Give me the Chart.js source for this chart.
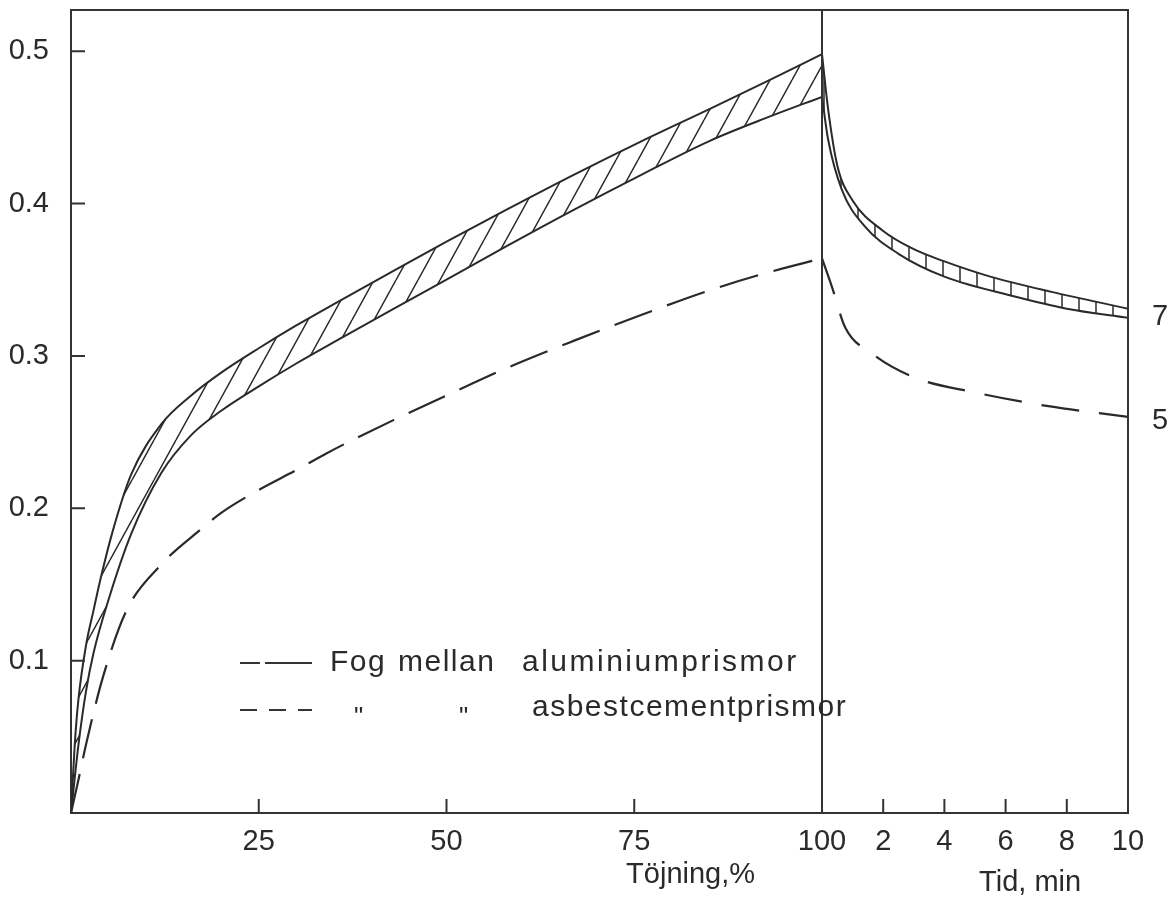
<!DOCTYPE html>
<html>
<head>
<meta charset="utf-8">
<script src="https://cdn.jsdelivr.net/npm/chart.js@4/dist/chart.umd.min.js"></script>
<style>
  body { margin: 0; background: #fff; }
  #wrap { width: 1176px; height: 906px; }
</style>
</head>
<body>
<div id="wrap"><canvas id="chart" width="1176" height="906"></canvas></div>
<script>
// left panel: strain (%) vs stress
const strainAluUpper = [0, 0.5, 1, 2, 3, 4, 5.5, 8, 12, 16, 20, 25, 30, 35, 43, 50, 58, 67, 76, 85, 93, 100];
const stressAluUpper = [0, 0.045, 0.075, 0.11, 0.133, 0.155, 0.184, 0.222, 0.255, 0.274, 0.289, 0.305, 0.32, 0.334, 0.356, 0.375, 0.396, 0.419, 0.441, 0.462, 0.481, 0.498];
const strainAluLower = [0, 1, 2, 3, 5, 8, 12, 16, 20, 25, 30, 35, 43, 50, 58, 67, 76, 85, 93, 100];
const stressAluLower = [0, 0.045, 0.08, 0.105, 0.14, 0.183, 0.223, 0.248, 0.264, 0.28, 0.295, 0.309, 0.331, 0.35, 0.372, 0.396, 0.419, 0.441, 0.457, 0.47];
const strainAsb = [0, 1, 2, 4.3, 7.4, 12, 17, 20, 25, 30, 34, 43, 50, 58, 67, 76, 85, 93, 100];
const stressAsb = [0, 0.022, 0.045, 0.09, 0.133, 0.163, 0.185, 0.197, 0.212, 0.225, 0.236, 0.258, 0.274, 0.292, 0.31, 0.327, 0.343, 0.355, 0.364];

// right panel: time (min) vs stress (relaxation)
const timeAluUpper = [0, 0.2, 0.5, 1, 2, 3, 4, 5.5, 7.5, 10];
const relaxAluUpper = [0.498, 0.462, 0.425, 0.402, 0.382, 0.37, 0.362, 0.352, 0.342, 0.331];
const timeAluLower = [0, 0.2, 0.65, 1.4, 2.5, 4, 6.3, 8, 10];
const relaxAluLower = [0.47, 0.442, 0.409, 0.385, 0.367, 0.352, 0.339, 0.331, 0.325];
const timeAsb = [0, 0.33, 0.75, 1.6, 3, 5, 7.4, 10];
const relaxAsb = [0.364, 0.345, 0.319, 0.302, 0.286, 0.276, 0.267, 0.26];

const yTicks = [0.1, 0.2, 0.3, 0.4, 0.5];
const strainTicks = [25, 50, 75, 100];
const timeTicks = [2, 4, 6, 8, 10];
const curveLabels = ['7', '5'];
const legendTexts = ['Fog', 'mellan', 'aluminiumprismor', 'asbestcementprismor'];
const axisTitles = ['Töjning,%', 'Tid, min'];

const INK = '#2a2a2a';
const FONT = '"Liberation Sans", Arial, sans-serif';

function pts(xs, ys) {
    return xs.map((x, i) => ({ x: x, y: ys[i] }));
}

// diagonal hatch for the left band
function hatchPattern() {
    const c = document.createElement('canvas');
    c.width = 22; c.height = 40;
    const g = c.getContext('2d');
    g.strokeStyle = INK; g.lineWidth = 1.5;
    g.beginPath();
    [-22, 0, 22].forEach(o => { g.moveTo(o, 40); g.lineTo(o + 22, 0); });
    g.stroke();
    return g.createPattern(c, 'repeat');
}

// short cross strokes for the right band
function ladderPattern() {
    const c = document.createElement('canvas');
    c.width = 17; c.height = 8;
    const g = c.getContext('2d');
    g.strokeStyle = INK; g.lineWidth = 1.5;
    g.beginPath(); g.moveTo(8, 0); g.lineTo(8, 8); g.stroke();
    return g.createPattern(c, 'repeat');
}

const solid = { borderColor: INK, borderWidth: 2, pointRadius: 0, cubicInterpolationMode: 'monotone' };
const dashed = { borderColor: INK, borderWidth: 2.2, borderDash: [40, 16], pointRadius: 0, cubicInterpolationMode: 'monotone', fill: false };

const paperPlugin = {
    id: 'paper',
    afterDraw(chart) {
        const { ctx, chartArea: a, scales: { x, x2, y } } = chart;
        ctx.save();
        ctx.strokeStyle = '#333';
        ctx.lineWidth = 2;
        // frame and panel divider
        ctx.beginPath();
        ctx.moveTo(a.left, a.top); ctx.lineTo(a.right, a.top); ctx.lineTo(a.right, a.bottom);
        ctx.moveTo(x2.left, a.top); ctx.lineTo(x2.left, a.bottom);
        ctx.stroke();

        // inward tick marks
        ctx.beginPath();
        strainTicks.filter(v => v < 100).forEach(v => {
            const px = x.getPixelForValue(v);
            ctx.moveTo(px, a.bottom); ctx.lineTo(px, a.bottom - 14);
        });
        timeTicks.filter(v => v < 10).forEach(v => {
            const px = x2.getPixelForValue(v);
            ctx.moveTo(px, a.bottom); ctx.lineTo(px, a.bottom - 14);
        });
        yTicks.forEach(v => {
            const py = y.getPixelForValue(v);
            ctx.moveTo(a.left, py); ctx.lineTo(a.left + 14, py);
        });
        ctx.stroke();

        ctx.fillStyle = INK;
        ctx.font = '29px ' + FONT;
        ctx.textBaseline = 'middle';

        // curve numbers at the right edge
        ctx.textAlign = 'center';
        const bandEnd = (relaxAluUpper[relaxAluUpper.length - 1] + relaxAluLower[relaxAluLower.length - 1]) / 2;
        ctx.fillText(curveLabels[0], a.right + 32, y.getPixelForValue(bandEnd) + 4);
        ctx.fillText(curveLabels[1], a.right + 32, y.getPixelForValue(relaxAsb[relaxAsb.length - 1]) + 4);

        // axis titles
        ctx.textBaseline = 'top';
        ctx.fillText(axisTitles[0], x.getPixelForValue(82.5), a.bottom + 47);
        ctx.fillText(axisTitles[1], x2.getPixelForValue(6.8), a.bottom + 55);

        // legend
        const r1 = 663, r2 = 710;
        ctx.beginPath();
        ctx.moveTo(240, r1); ctx.lineTo(260, r1);
        ctx.moveTo(265, r1); ctx.lineTo(312, r1);
        ctx.stroke();
        ctx.setLineDash([17, 12]);
        ctx.beginPath();
        ctx.moveTo(240, r2); ctx.lineTo(312, r2);
        ctx.stroke();
        ctx.setLineDash([]);

        ctx.textAlign = 'left';
        ctx.textBaseline = 'middle';
        ctx.font = '30px ' + FONT;
        ctx.letterSpacing = '1.5px';
        ctx.fillText(legendTexts[0], 330, r1);
        ctx.fillText(legendTexts[1], 398, r1);
        ctx.letterSpacing = '2.5px';
        ctx.fillText(legendTexts[2], 522, r1);
        ctx.letterSpacing = '1.5px';
        ctx.fillText(legendTexts[3], 532, r2 - 2);
        ctx.font = '26px ' + FONT;
        ctx.fillText('"', 354, r2 + 8);
        ctx.fillText('"', 459, r2 + 8);
        ctx.restore();
    }
};

new Chart(document.getElementById('chart'), {
    type: 'line',
    data: {
        datasets: [
            Object.assign({ data: pts(strainAluUpper, stressAluUpper), xAxisID: 'x', fill: false }, solid),
            Object.assign({ data: pts(strainAluLower, stressAluLower), xAxisID: 'x', fill: '-1', backgroundColor: hatchPattern() }, solid),
            Object.assign({ data: pts(strainAsb, stressAsb), xAxisID: 'x' }, dashed),
            Object.assign({ data: pts(timeAluUpper, relaxAluUpper), xAxisID: 'x2', fill: false }, solid),
            Object.assign({ data: pts(timeAluLower, relaxAluLower), xAxisID: 'x2', fill: '-1', backgroundColor: ladderPattern() }, solid),
            Object.assign({ data: pts(timeAsb, relaxAsb), xAxisID: 'x2' }, dashed, { borderDash: [38, 20] })
        ]
    },
    options: {
        responsive: false,
        devicePixelRatio: 1,
        animation: false,
        layout: { padding: { top: 10, right: 48, left: 0, bottom: 0 } },
        plugins: { legend: { display: false }, tooltip: { enabled: false } },
        scales: {
            x: {
                type: 'linear', position: 'bottom', stack: 'base', stackWeight: 751,
                min: 0, max: 100,
                afterFit: s => { s.height = 93; s.paddingLeft = 0; s.paddingRight = 0; },
                afterBuildTicks: s => { s.ticks = strainTicks.map(v => ({ value: v })); },
                grid: { display: false, drawTicks: false },
                border: { display: true, color: '#333', width: 2 },
                ticks: { color: INK, font: { family: FONT, size: 29 }, padding: 12, maxRotation: 0, autoSkip: false }
            },
            x2: {
                type: 'linear', position: 'bottom', stack: 'base', stackWeight: 306,
                min: 0, max: 10,
                afterFit: s => { s.height = 93; s.paddingLeft = 0; s.paddingRight = 0; },
                afterBuildTicks: s => { s.ticks = timeTicks.map(v => ({ value: v })); },
                grid: { display: false, drawTicks: false },
                border: { display: true, color: '#333', width: 2 },
                ticks: { color: INK, font: { family: FONT, size: 29 }, padding: 12, maxRotation: 0, autoSkip: false }
            },
            y: {
                type: 'linear', position: 'left',
                min: 0, max: 0.527,
                afterFit: s => { s.width = 71; s.paddingTop = 0; s.paddingBottom = 0; },
                afterBuildTicks: s => { s.ticks = yTicks.map(v => ({ value: v })); },
                grid: { display: false, drawTicks: false },
                border: { display: true, color: '#333', width: 2 },
                ticks: { color: INK, font: { family: FONT, size: 29 }, padding: 22, callback: v => v.toFixed(1) }
            }
        }
    },
    plugins: [paperPlugin]
});
</script>
</body>
</html>
